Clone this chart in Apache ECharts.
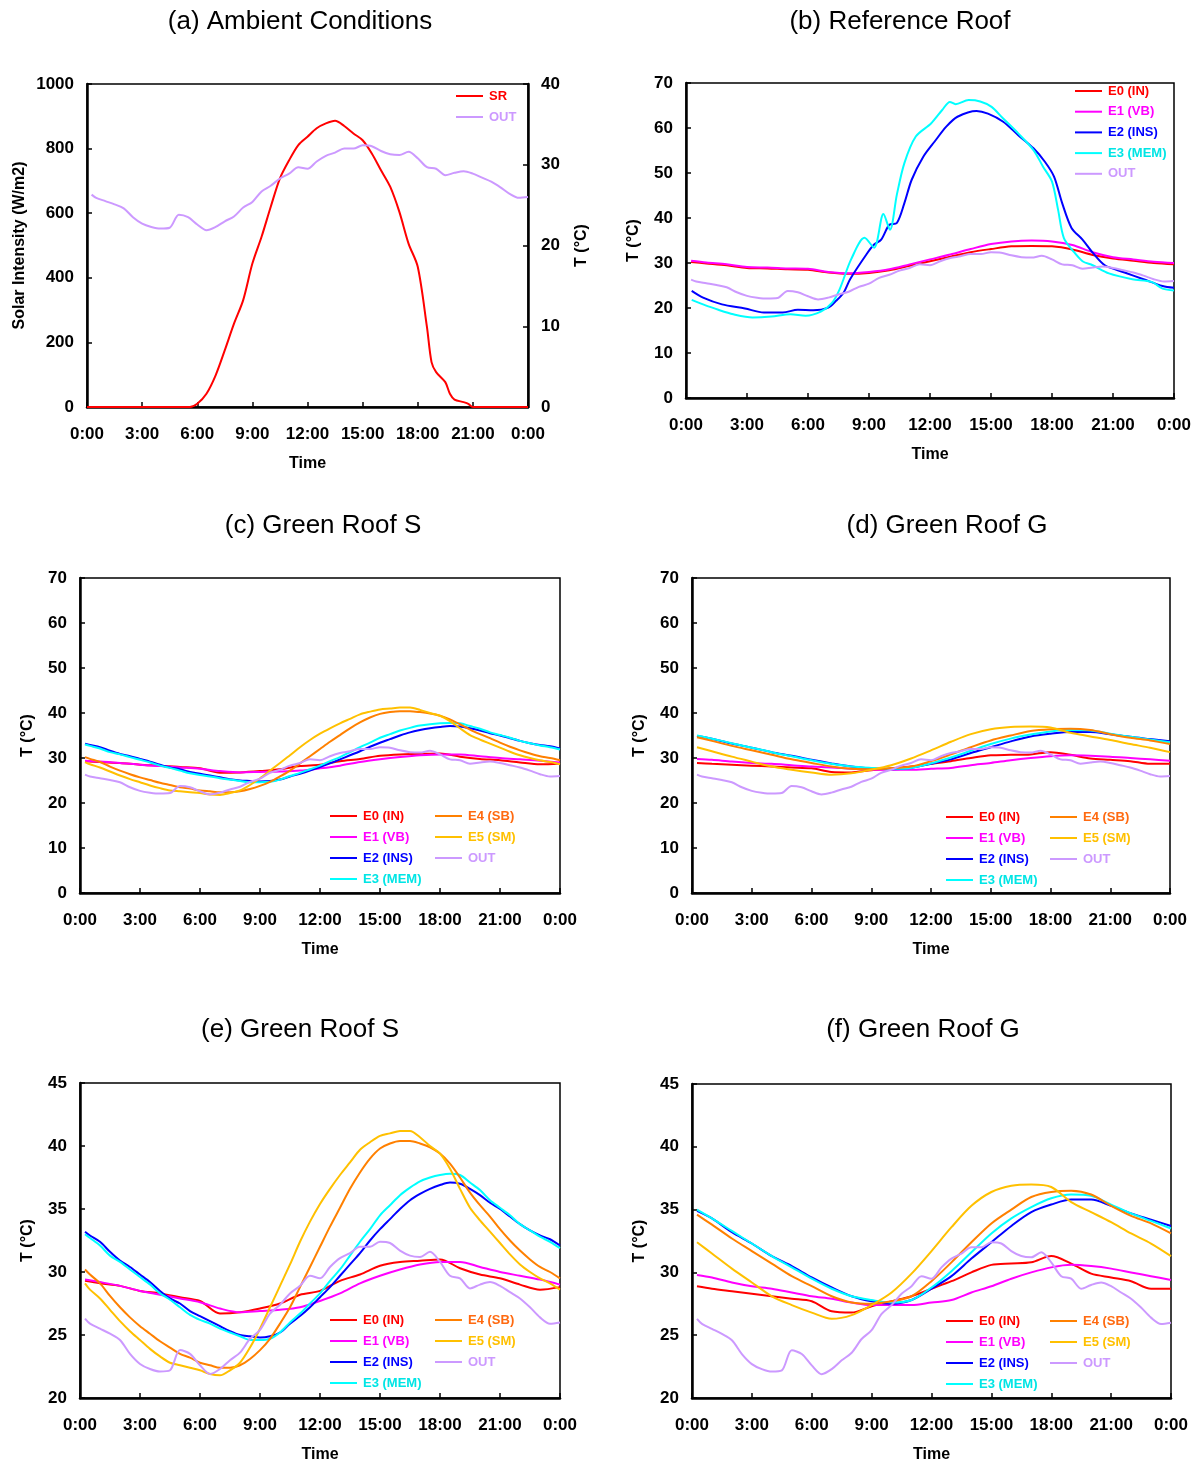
<!DOCTYPE html>
<html>
<head>
<meta charset="utf-8">
<script src="https://cdn.jsdelivr.net/npm/echarts@6/dist/echarts.min.js"></script>
<style>html,body{margin:0;padding:0;background:#fff}#c{width:1196px;height:1464px}</style>
</head>
<body>
<div id="c"></div>
<script>
// ---------- DATA ----------
const hourTicks = [0, 3, 6, 9, 12, 15, 18, 21, 24];
const hrsH = [0.25, 0.5, 1, 1.5, 2, 2.5, 3, 3.5, 4, 4.5, 5, 5.5, 6, 6.5, 7, 7.5, 8, 8.5, 9, 9.5, 10, 10.5, 11, 11.5, 12, 12.5, 13, 13.5, 14, 14.5, 15, 15.5, 16, 16.5, 17, 17.5, 18, 18.5, 19, 19.5, 20, 20.5, 21, 21.5, 22, 22.5, 23, 23.5, 24];
const hrsF = [0.25, 1, 2, 3, 4, 5, 6, 7, 8, 9, 10, 11, 12, 13, 14, 15, 16, 17, 18, 19, 20, 21, 22, 23, 24];

// (a) ambient
const srHours = [0, 5.6, 6, 6.5, 7, 7.5, 8, 8.5, 9, 9.5, 10, 10.5, 11, 11.5, 12, 12.5, 13, 13.5, 14, 14.5, 15, 15.5, 16, 16.5, 17, 17.5, 18, 18.5, 18.75, 19, 19.5, 19.75, 20, 20.5, 20.75, 21, 24];
const srValues = [0, 0, 10, 41, 98, 176, 258, 331, 444, 527, 620, 708, 764, 811, 837, 863, 878, 886, 870, 847, 826, 785, 733, 682, 604, 506, 434, 248, 139, 108, 77, 41, 23, 15, 10, 0, 0];
const outT = [26.3, 25.9, 25.5, 25.1, 24.6, 23.5, 22.7, 22.3, 22.1, 22.2, 23.8, 23.5, 22.6, 21.9, 22.3, 23.0, 23.6, 24.7, 25.4, 26.7, 27.4, 28.3, 28.9, 29.7, 29.5, 30.4, 31.1, 31.5, 32.0, 32.0, 32.4, 32.3, 31.7, 31.3, 31.2, 31.6, 30.8, 29.7, 29.5, 28.7, 29.0, 29.2, 28.9, 28.4, 27.9, 27.2, 26.4, 25.9, 26.0];

// (b) reference roof
const refE0 = [30.2, 29.9, 29.5, 28.9, 28.8, 28.6, 28.5, 27.9, 27.6, 27.8, 28.4, 29.4, 30.4, 31.4, 32.4, 33.1, 33.7, 33.8, 33.7, 33.0, 31.8, 31.0, 30.5, 30.0, 29.7];
const refE1 = [30.5, 30.1, 29.7, 29.1, 29.0, 28.8, 28.7, 28.0, 27.7, 28.0, 28.6, 29.7, 30.8, 31.9, 33.1, 34.2, 34.8, 35.0, 34.8, 34.0, 32.4, 31.3, 30.8, 30.3, 30.0];
const refE2Hours = [0.28, 0.84, 1.77, 2.9, 3.83, 4.76, 5.5, 6.26, 7.0, 7.38, 7.75, 8.07, 8.87, 9.25, 9.6, 10.0, 10.37, 10.74, 11.1, 11.67, 12.23, 12.8, 13.35, 14.29, 14.85, 15.6, 16.34, 17.09, 17.65, 18.1, 18.5, 18.96, 19.5, 20.0, 20.6, 21.57, 22.5, 23.44, 24];
const refE2 = [23.8, 22.3, 20.8, 19.9, 19.0, 19.0, 19.6, 19.5, 20.1, 21.6, 23.4, 26.4, 31.9, 34.1, 35.2, 38.5, 38.9, 43.3, 48.5, 53.6, 57.0, 60.3, 62.5, 63.8, 63.2, 61.4, 58.4, 55.5, 52.5, 49.2, 43.3, 37.8, 35.2, 32.3, 29.5, 27.9, 26.4, 24.9, 24.5];
const refE3Hours = [0.28, 0.84, 1.59, 2.33, 3.27, 4.2, 5.14, 5.88, 6.63, 7.19, 7.56, 8.12, 8.78, 9.25, 9.71, 10.03, 10.37, 10.74, 11.3, 12.05, 12.6, 12.98, 13.26, 13.9, 14.47, 15.03, 15.6, 16.34, 17.09, 17.56, 18.0, 18.3, 18.58, 19.05, 19.5, 20.0, 20.8, 21.95, 22.9, 23.44, 24];
const refE3 = [21.8, 20.8, 19.6, 18.6, 17.9, 18.1, 18.6, 18.3, 19.2, 21.2, 24.2, 30.8, 35.6, 33.4, 40.9, 37.4, 45.2, 52.2, 58.1, 61.0, 64.0, 65.8, 65.3, 66.2, 65.9, 64.7, 62.1, 58.8, 55.1, 51.4, 48.1, 41.8, 35.6, 32.6, 30.4, 29.5, 27.7, 26.4, 25.8, 24.3, 23.9];

// Green roof S (panels c, e)
const sE0 = [29.3, 29.1, 28.9, 28.5, 28.3, 28.0, 27.7, 26.7, 26.8, 27.1, 27.5, 28.2, 28.5, 29.3, 29.8, 30.5, 30.8, 30.9, 31.0, 30.3, 29.8, 29.5, 29.0, 28.6, 28.8];
const sE1 = [29.4, 29.2, 28.9, 28.5, 28.2, 27.9, 27.6, 27.1, 26.8, 26.9, 27.0, 27.2, 27.7, 28.3, 29.1, 29.7, 30.2, 30.6, 30.8, 30.8, 30.4, 30.0, 29.7, 29.4, 29.0];
const sE2 = [33.2, 32.9, 32.4, 31.6, 30.9, 30.4, 29.8, 29.2, 28.5, 27.9, 27.5, 26.9, 26.5, 26.1, 25.7, 25.3, 25.0, 24.9, 24.8, 24.9, 25.2, 25.9, 26.5, 27.2, 28.0, 28.8, 29.7, 30.6, 31.5, 32.5, 33.4, 34.2, 35.0, 35.7, 36.2, 36.6, 36.9, 37.1, 37.0, 36.6, 36.1, 35.5, 35.0, 34.4, 33.8, 33.3, 32.9, 32.6, 32.1];
const sE3 = [33.0, 32.7, 32.1, 31.3, 30.8, 30.2, 29.6, 29.0, 28.3, 27.8, 27.2, 26.6, 26.2, 25.9, 25.5, 25.2, 24.9, 24.6, 24.6, 24.7, 25.2, 26.0, 26.7, 27.5, 28.3, 29.3, 30.2, 31.3, 32.4, 33.4, 34.5, 35.3, 36.1, 36.7, 37.2, 37.5, 37.7, 37.8, 37.7, 37.1, 36.5, 35.7, 35.1, 34.5, 33.8, 33.3, 32.8, 32.4, 31.9];
const sE4 = [30.2, 29.8, 29.1, 28.1, 27.2, 26.4, 25.7, 25.1, 24.5, 24.0, 23.5, 23.2, 22.8, 22.6, 22.4, 22.4, 22.6, 23.1, 23.8, 24.7, 25.9, 27.2, 28.8, 30.4, 32.0, 33.6, 35.1, 36.6, 37.9, 39.0, 39.8, 40.2, 40.4, 40.4, 40.2, 39.9, 39.4, 38.6, 37.5, 36.3, 35.3, 34.4, 33.4, 32.5, 31.7, 31.0, 30.4, 30.0, 29.5];
const sE5 = [29.1, 28.6, 27.9, 27.0, 26.1, 25.3, 24.6, 23.9, 23.3, 22.8, 22.6, 22.4, 22.2, 21.9, 21.8, 22.2, 22.8, 24.0, 25.5, 27.2, 28.9, 30.6, 32.4, 34.0, 35.4, 36.6, 37.7, 38.7, 39.7, 40.3, 40.8, 41.0, 41.2, 41.2, 40.7, 40.0, 39.4, 38.2, 36.6, 35.1, 34.1, 33.2, 32.3, 31.4, 30.6, 30.0, 29.5, 29.1, 28.6];

// Green roof G (panels d, f)
const gE0 = [28.9, 28.7, 28.5, 28.3, 28.1, 27.9, 27.7, 26.9, 26.8, 27.3, 27.7, 28.1, 28.7, 29.3, 30.0, 30.6, 30.7, 30.8, 31.3, 30.7, 29.9, 29.6, 29.3, 28.7, 28.7];
const gE1 = [29.8, 29.6, 29.2, 28.9, 28.7, 28.4, 28.1, 27.9, 27.6, 27.4, 27.4, 27.4, 27.6, 27.8, 28.4, 28.9, 29.5, 30.0, 30.4, 30.6, 30.5, 30.3, 30.0, 29.7, 29.4];
const gE2 = [34.9, 34.3, 33.2, 32.3, 31.3, 30.5, 29.6, 28.8, 28.1, 27.7, 27.5, 27.8, 28.7, 29.7, 31.1, 32.4, 33.7, 34.8, 35.4, 35.8, 35.8, 35.3, 34.7, 34.2, 33.7];
const gE3 = [35.0, 34.3, 33.3, 32.3, 31.3, 30.4, 29.5, 28.7, 28.1, 27.8, 27.6, 27.8, 28.8, 30.1, 31.6, 33.1, 34.3, 35.2, 35.9, 36.2, 36.1, 35.4, 34.7, 34.1, 33.5];
const gE4 = [34.6, 33.8, 32.7, 31.7, 30.7, 29.7, 28.9, 28.1, 27.6, 27.5, 27.7, 28.1, 29.3, 30.8, 32.4, 33.9, 35.0, 36.0, 36.4, 36.5, 36.2, 35.3, 34.5, 33.9, 33.1];
const gE5 = [32.4, 31.5, 30.3, 29.2, 28.1, 27.4, 26.8, 26.3, 26.6, 27.4, 28.4, 29.9, 31.7, 33.6, 35.3, 36.4, 36.9, 37.0, 36.8, 35.6, 34.8, 34.0, 33.1, 32.3, 31.3];

const titles = ['(a) Ambient Conditions', '(b) Reference Roof', '(c) Green Roof S', '(d) Green Roof G', '(e) Green Roof S', '(f) Green Roof G'];
const names = { SR: 'SR', OUT: 'OUT', E0: 'E0 (IN)', E1: 'E1 (VB)', E2: 'E2 (INS)', E3: 'E3 (MEM)', E4: 'E4 (SB)', E5: 'E5 (SM)' };

// ---------- STYLE ----------
const colors = { SR: '#ff0000', OUT: '#cc99ff', E0: '#ff0000', E1: '#ff00ff', E2: '#0000ff', E3: '#00ffff', E4: '#ff8000', E5: '#ffc000' };
const textColors = { SR: '#ff0000', OUT: '#cc99ff', E0: '#ff0000', E1: '#ff00ff', E2: '#0000ff', E3: '#00e5e5', E4: '#ff6a10', E5: '#ffc000' };
const FONT = '"Liberation Sans", Arial, sans-serif';

const grids = [
  { left: 87, top: 84, width: 441, height: 323 },
  { left: 686, top: 83, width: 488, height: 315 },
  { left: 80, top: 578, width: 480, height: 315 },
  { left: 692, top: 578, width: 478, height: 315 },
  { left: 80, top: 1083, width: 480, height: 315 },
  { left: 692, top: 1084, width: 479, height: 314 }
];
const titlePos = [[295, 4], [895, 4], [318, 508], [942, 508], [295, 1012], [918, 1012]];

function pairs(t, v) { return t.map((x, i) => [x, v[i]]); }
const tickLabel = { fontFamily: FONT, fontWeight: 'bold', fontSize: 17, color: '#000' };

function xAxis(gi) {
  return {
    type: 'value', gridIndex: gi, min: 0, max: 24, interval: 3,
    name: 'Time', nameLocation: 'middle', nameGap: 49,
    nameTextStyle: { fontFamily: FONT, fontWeight: 'bold', fontSize: 16, color: '#000' },
    axisLine: { show: true, lineStyle: { color: '#000', width: 2.5 } },
    axisTick: { show: true, inside: true, length: 5, lineStyle: { color: '#000', width: 1.5 } },
    axisLabel: Object.assign({ margin: 19, formatter: v => (v % 24) + ':00' }, tickLabel),
    splitLine: { show: false }
  };
}
function yAxis(gi, min, max, interval, name, pos, gap) {
  return {
    type: 'value', gridIndex: gi, min: min, max: max, interval: interval, position: pos || 'left',
    name: name, nameLocation: 'middle', nameGap: gap || 44,
    nameTextStyle: { fontFamily: FONT, fontWeight: 'bold', fontSize: 16, color: '#000' },
    axisLine: { show: true, onZero: false, lineStyle: { color: '#000', width: 2.5 } },
    axisTick: { show: true, inside: true, length: 5, lineStyle: { color: '#000', width: 1.5 } },
    axisLabel: Object.assign({ margin: 13, formatter: v => String(v) }, tickLabel),
    splitLine: { show: false }
  };
}
function line(key, xi, yi, data) {
  return {
    type: 'line', name: names[key], xAxisIndex: xi, yAxisIndex: yi, data: data,
    symbol: 'none', showSymbol: false, smooth: 0.3, silent: true,
    color: colors[key], lineStyle: { color: colors[key], width: 2 }, z: 3
  };
}
function legend(keys, left, top, gap) {
  return {
    orient: 'vertical', left: left, top: top, itemWidth: 27, itemHeight: 2, itemGap: gap,
    icon: 'rect', selectedMode: false, padding: 0,
    textStyle: { fontFamily: FONT, fontWeight: 'bold', fontSize: 13, lineHeight: 14, padding: [0, 0, 0, 1] },
    data: keys.map(k => ({ name: names[k], icon: 'rect', textStyle: { color: textColors[k] } }))
  };
}

const series = [];
// (a)
series.push(line('SR', 0, 0, pairs(srHours, srValues)));
series.push(line('OUT', 0, 1, pairs(hrsH, outT)));
// (b)
series.push(line('E0', 1, 2, pairs(hrsF, refE0)));
series.push(line('E1', 1, 2, pairs(hrsF, refE1)));
series.push(line('E2', 1, 2, pairs(refE2Hours, refE2)));
series.push(line('E3', 1, 2, pairs(refE3Hours, refE3)));
series.push(line('OUT', 1, 2, pairs(hrsH, outT)));
// (c)-(f)
const panels = [
  { xi: 2, yi: 3, S: true }, { xi: 3, yi: 4, S: false },
  { xi: 4, yi: 5, S: true }, { xi: 5, yi: 6, S: false }
];
panels.forEach(p => {
  if (p.S) {
    series.push(line('E0', p.xi, p.yi, pairs(hrsF, sE0)));
    series.push(line('E1', p.xi, p.yi, pairs(hrsF, sE1)));
    series.push(line('E2', p.xi, p.yi, pairs(hrsH, sE2)));
    series.push(line('E3', p.xi, p.yi, pairs(hrsH, sE3)));
    series.push(line('E4', p.xi, p.yi, pairs(hrsH, sE4)));
    series.push(line('E5', p.xi, p.yi, pairs(hrsH, sE5)));
  } else {
    series.push(line('E0', p.xi, p.yi, pairs(hrsF, gE0)));
    series.push(line('E1', p.xi, p.yi, pairs(hrsF, gE1)));
    series.push(line('E2', p.xi, p.yi, pairs(hrsF, gE2)));
    series.push(line('E3', p.xi, p.yi, pairs(hrsF, gE3)));
    series.push(line('E4', p.xi, p.yi, pairs(hrsF, gE4)));
    series.push(line('E5', p.xi, p.yi, pairs(hrsF, gE5)));
  }
  series.push(line('OUT', p.xi, p.yi, pairs(hrsH, outT)));
});

const option = {
  animation: false,
  backgroundColor: '#fff',
  title: titles.map((t, i) => ({
    text: t, left: titlePos[i][0], top: titlePos[i][1], textAlign: 'center',
    textStyle: { fontFamily: FONT, fontWeight: 'normal', fontSize: 26, color: '#000' }
  })),
  grid: grids.map(g => Object.assign({ show: true, borderColor: '#000', borderWidth: 1.5, backgroundColor: 'transparent', containLabel: false }, g)),
  xAxis: [0, 1, 2, 3, 4, 5].map(xAxis),
  yAxis: [
    yAxis(0, 0, 1000, 200, 'Solar Intensity (W/m2)', 'left', 59),
    yAxis(0, 0, 40, 10, 'T (°C)', 'right', 46),
    yAxis(1, 0, 70, 10, 'T (°C)'),
    yAxis(2, 0, 70, 10, 'T (°C)'),
    yAxis(3, 0, 70, 10, 'T (°C)'),
    yAxis(4, 20, 45, 5, 'T (°C)'),
    yAxis(5, 20, 45, 5, 'T (°C)')
  ],
  legend: [
    legend(['SR', 'OUT'], 456, 89, 7),
    legend(['E0', 'E1', 'E2', 'E3', 'OUT'], 1075, 84, 6.7),
    legend(['E0', 'E1', 'E2', 'E3'], 330, 809, 7),
    legend(['E4', 'E5', 'OUT'], 435, 809, 7),
    legend(['E0', 'E1', 'E2', 'E3'], 946, 810, 7),
    legend(['E4', 'E5', 'OUT'], 1050, 810, 7),
    legend(['E0', 'E1', 'E2', 'E3'], 330, 1313, 7),
    legend(['E4', 'E5', 'OUT'], 435, 1313, 7),
    legend(['E0', 'E1', 'E2', 'E3'], 946, 1314, 7),
    legend(['E4', 'E5', 'OUT'], 1050, 1314, 7)
  ],
  series: series
};

const chart = echarts.init(document.getElementById('c'), null, { renderer: 'canvas' });
chart.setOption(option);
</script>
</body>
</html>
